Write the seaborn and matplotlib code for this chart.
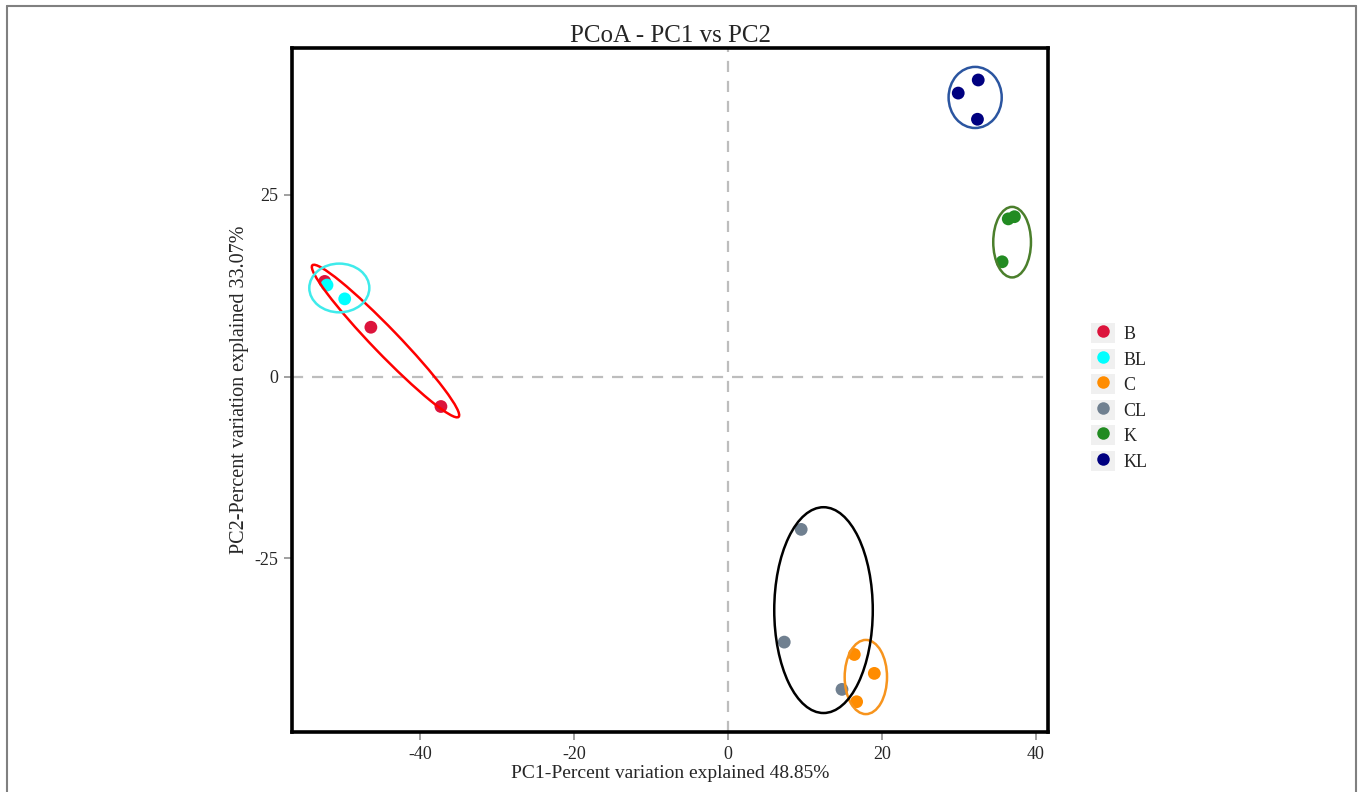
import numpy as np
import pandas as pd
import seaborn as sns
import matplotlib.pyplot as plt
from matplotlib.patches import Ellipse, Patch
from matplotlib.lines import Line2D
from matplotlib.legend_handler import HandlerTuple

# sample coordinates per group
groups = ["B", "BL", "C", "CL", "K", "KL"]
pc1_B = [-52.4, -46.4, -37.3]
pc2_B = [13.1, 6.8, -4.1]
pc1_BL = [-52.1, -49.8]
pc2_BL = [12.6, 10.7]
pc1_C = [16.4, 19.0, 16.7]
pc2_C = [-38.2, -40.8, -44.7]
pc1_CL = [9.5, 7.3, 14.8]
pc2_CL = [-21.0, -36.5, -43.0]
pc1_K = [36.4, 37.2, 35.6]
pc2_K = [21.7, 22.0, 15.8]
pc1_KL = [29.9, 32.5, 32.4]
pc2_KL = [39.0, 40.8, 35.4]

# group ellipses: centre x, centre y, width, height, angle (data units)
ell_B = [-44.5, 4.9, 28.2, 3.4, -47.7]
ell_BL = [-50.5, 12.2, 7.8, 6.7, 0]
ell_C = [17.9, -41.3, 5.5, 10.2, 0]
ell_CL = [12.4, -32.1, 12.8, 28.3, 0]
ell_K = [36.9, 18.5, 4.9, 9.7, 0]
ell_KL = [32.1, 38.4, 6.9, 8.4, 0]

xticks = [-40, -20, 0, 20, 40]
yticks = [-25, 0, 25]

point_colors = {"B": "#DC143C", "BL": "#00FFFF", "C": "#FF8C00",
                "CL": "#708090", "K": "#228B22", "KL": "#000080"}
ellipse_colors = {"B": "#FF0000", "BL": "#3FEBEB", "C": "#F7941D",
                  "CL": "#000000", "K": "#4B7F2C", "KL": "#2B55A0"}

pc1 = {"B": pc1_B, "BL": pc1_BL, "C": pc1_C, "CL": pc1_CL, "K": pc1_K, "KL": pc1_KL}
pc2 = {"B": pc2_B, "BL": pc2_BL, "C": pc2_C, "CL": pc2_CL, "K": pc2_K, "KL": pc2_KL}
ells = {"B": ell_B, "BL": ell_BL, "C": ell_C, "CL": ell_CL, "K": ell_K, "KL": ell_KL}

rows = []
for g in groups:
    for a, b in zip(pc1[g], pc2[g]):
        rows.append({"PC1": a, "PC2": b, "group": g})
df = pd.DataFrame(rows)

sns.set_theme(style="white")
plt.rcParams["font.family"] = ["Liberation Serif", "DejaVu Serif"]
plt.rcParams["axes.unicode_minus"] = False

fig = plt.figure(figsize=(13.63, 7.92), dpi=100)
ax = fig.add_axes([0.2145, 0.0754, 0.5546, 0.864])

ax.axvline(0, color="#BDBDBD", lw=1.6, ls=(0, (5, 4)), zorder=1)
ax.axhline(0, color="#BDBDBD", lw=1.6, ls=(0, (5, 4)), zorder=1)

sns.scatterplot(data=df, x="PC1", y="PC2", hue="group", hue_order=groups,
                palette=point_colors, s=85, edgecolor="none", legend=False,
                ax=ax, zorder=3)

for g in groups:
    cx, cy, w, h, ang = ells[g]
    ax.add_patch(Ellipse((cx, cy), w, h, angle=ang, fill=False,
                         edgecolor=ellipse_colors[g], lw=1.8, zorder=4))

ax.set_xlim(-56.6, 41.6)
ax.set_ylim(-48.9, 45.2)
ax.set_xticks(xticks)
ax.set_yticks(yticks)
ax.tick_params(axis="both", direction="out", length=6, width=1.3,
               color="#999999", labelsize=13, pad=4,
               bottom=True, left=True, top=False, right=False)
for sp in ax.spines.values():
    sp.set_color("black")
    sp.set_linewidth(2.6)

ax.set_xlabel("PC1-Percent variation explained 48.85%", fontsize=14, labelpad=1)
ax.set_ylabel("PC2-Percent variation explained 33.07%", fontsize=14.5, labelpad=4)
ax.set_title("PCoA - PC1 vs PC2", fontsize=18, pad=4)

handles = []
for g in groups:
    key = Patch(facecolor="#F0F0F0", edgecolor="none")
    dot = Line2D([], [], marker="o", ls="none", markersize=9,
                 markerfacecolor=point_colors[g], markeredgecolor="none")
    handles.append((key, dot))
fig.legend(handles, groups, handler_map={tuple: HandlerTuple(ndivide=1)},
           loc="upper left", bbox_to_anchor=(0.794, 0.603), frameon=False,
           fontsize=13, handlelength=1.3, handleheight=1.3,
           labelspacing=0.31, handletextpad=0.5, borderpad=0)

# thin frame around the image
fig.add_artist(Line2D([7 / 1363, 7 / 1363], [0, 1 - 6 / 792],
                      transform=fig.transFigure, color="#808080", lw=1.5))
fig.add_artist(Line2D([7 / 1363, 1356 / 1363], [1 - 6 / 792, 1 - 6 / 792],
                      transform=fig.transFigure, color="#808080", lw=1.5))
fig.add_artist(Line2D([1356 / 1363, 1356 / 1363], [0, 1 - 6 / 792],
                      transform=fig.transFigure, color="#808080", lw=1.5))

fig.savefig("out.png", dpi=100)
